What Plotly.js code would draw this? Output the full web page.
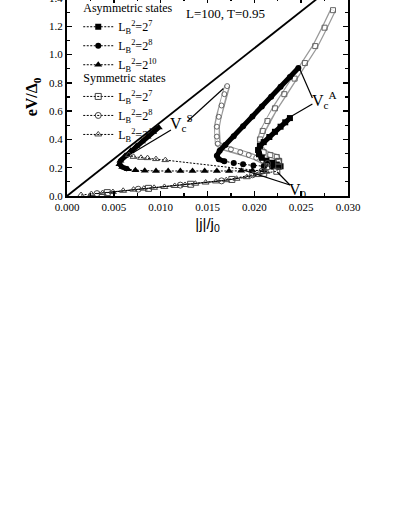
<!DOCTYPE html>
<html>
<head>
<meta charset="utf-8">
<script src="https://cdn.plot.ly/plotly-3.0.1.min.js"></script>
<style>
body{margin:0;background:#fff;overflow:hidden}
#chart{position:absolute;left:0;top:-20px;width:399px;height:536px}
</style>
</head>
<body>
<div id="chart"></div>
<script>
const SERIF = 'Liberation Serif, Times New Roman, serif'

// ohmic line through the origin
const ohmX = [0, 0.0268]
const ohmY = [0, 1.4]

// asymmetric states: dense turning branch, then the sparse tail
const asym7DenseX = [0.0238, 0.0233, 0.0228, 0.0222, 0.0216, 0.0210, 0.0206, 0.0204, 0.0205, 0.0208]
const asym7DenseY = [0.551, 0.521, 0.490, 0.454, 0.417, 0.381, 0.355, 0.325, 0.295, 0.270]
const asym7TailX = [0.0213, 0.0219, 0.0224, 0.0228]
const asym7TailY = [0.250, 0.235, 0.222, 0.210]

const asym8DenseX = [0.0247, 0.0238, 0.0228, 0.0218, 0.0208, 0.0198, 0.0188, 0.0178, 0.0169, 0.0163, 0.0160, 0.0162, 0.0168]
const asym8DenseY = [0.905, 0.842, 0.772, 0.702, 0.633, 0.563, 0.493, 0.423, 0.360, 0.320, 0.285, 0.260, 0.245]
const asym8TailX = [0.0178, 0.0188, 0.0199, 0.0210, 0.0219, 0.0226]
const asym8TailY = [0.233, 0.224, 0.216, 0.210, 0.207, 0.205]

const asym10DenseX = [0.0098, 0.0092, 0.0086, 0.0080, 0.0074, 0.0068, 0.0062, 0.0057, 0.0056, 0.0059, 0.0065]
const asym10DenseY = [0.485, 0.452, 0.419, 0.386, 0.354, 0.320, 0.285, 0.250, 0.225, 0.205, 0.190]
const asym10TailX = [0.0073, 0.0083, 0.0095, 0.0108, 0.0121, 0.0134, 0.0147, 0.0160, 0.0173, 0.0186, 0.0198, 0.0210]
const asym10TailY = [0.182, 0.178, 0.177, 0.177, 0.176, 0.176, 0.176, 0.176, 0.177, 0.178, 0.180, 0.182]

// symmetric states: lower branch, then the dense chain up to V_c
const sym7LoX = [0.0043, 0.0087, 0.0132, 0.0176, 0.0210, 0.0224, 0.0226, 0.0226]
const sym7LoY = [0.024, 0.054, 0.083, 0.117, 0.160, 0.175, 0.210, 0.245]
const sym7ChainX = [0.0226, 0.0224, 0.0217, 0.0210, 0.0206, 0.0206, 0.0209, 0.0214, 0.0222, 0.0232, 0.0243, 0.0254, 0.0265, 0.0275, 0.0284]
const sym7ChainY = [0.245, 0.276, 0.290, 0.310, 0.350, 0.400, 0.460, 0.530, 0.620, 0.720, 0.830, 0.940, 1.060, 1.190, 1.314]

const sym8LoX = [0.0032, 0.0076, 0.0121, 0.0165, 0.0198, 0.0208, 0.0214, 0.0214]
const sym8LoY = [0.017, 0.048, 0.077, 0.107, 0.150, 0.175, 0.205, 0.230]
const sym8ChainX = [0.0214, 0.0209, 0.0202, 0.0194, 0.0185, 0.0175, 0.0166, 0.0161, 0.0160, 0.0160, 0.0162, 0.0165, 0.0168, 0.0171]
const sym8ChainY = [0.230, 0.250, 0.270, 0.290, 0.310, 0.330, 0.345, 0.370, 0.420, 0.490, 0.560, 0.640, 0.720, 0.777]

const sym10X = [0.0015, 0.0026, 0.0038, 0.0049, 0.0060, 0.0071, 0.0082, 0.0093, 0.0104, 0.0115, 0.0126, 0.0137, 0.0148, 0.0159, 0.0170, 0.0181, 0.0192, 0.0203, 0.0213, 0.0105, 0.0095, 0.0086, 0.0079, 0.0071, 0.0066]
const sym10Y = [0.007, 0.014, 0.021, 0.028, 0.037, 0.045, 0.052, 0.058, 0.064, 0.071, 0.078, 0.087, 0.095, 0.103, 0.112, 0.122, 0.133, 0.148, 0.172, 0.254, 0.261, 0.268, 0.270, 0.277, 0.290]

const labels = ['L<sub>B</sub><sup>2</sup>=2<sup>7</sup>', 'L<sub>B</sub><sup>2</sup>=2<sup>8</sup>', 'L<sub>B</sub><sup>2</sup>=2<sup>10</sup>']

function draw(){
	const DOT = {color: '#000', width: 1, dash: '2px,1.5px'}
	const GREY = '#666'

	function tube(x, y){
		return [
			{x: x, y: y, mode: 'lines', line: {color: '#999', width: 6}, showlegend: false, hoverinfo: 'skip'},
			{x: x, y: y, mode: 'lines', line: {color: '#fff', width: 3.5}, showlegend: false, hoverinfo: 'skip'},
		]
	}
	function chain(x, y, symbol){
		return {x: x, y: y, mode: 'markers', showlegend: false,
			marker: {symbol: symbol, size: 5, color: GREY, line: {color: GREY, width: 1}}}
	}
	function asym(dx, dy, tx, ty, symbol, size, name, first){
		let t = {
			x: dx.concat(tx), y: dy.concat(ty), name: name,
			mode: 'lines+markers', line: DOT,
			marker: {symbol: symbol, size: size, color: '#000'},
			legendgroup: 'asym', legend: 'legend',
		}
		if (first) t.legendgrouptitle = {text: 'Asymmetric states', font: {family: SERIF, size: 12}}
		return t
	}
	function thick(x, y){
		return {x: x, y: y, mode: 'lines', line: {color: '#000', width: 5}, showlegend: false, hoverinfo: 'skip'}
	}
	function sym(x, y, symbol, name, first){
		let t = {
			x: x, y: y, name: name,
			mode: 'lines+markers', line: DOT,
			marker: {symbol: symbol, size: 6, color: '#444', line: {color: '#444', width: 1}},
			legendgroup: 'sym', legend: 'legend2',
		}
		if (first) t.legendgrouptitle = {text: 'Symmetric states', font: {family: SERIF, size: 12}}
		return t
	}

	let traces = [
		{x: ohmX, y: ohmY, mode: 'lines', line: {color: '#000', width: 1.8}, showlegend: false},
		...tube(sym7ChainX, sym7ChainY),
		...tube(sym8ChainX, sym8ChainY),
		chain(sym7ChainX, sym7ChainY, 'square-open'),
		chain(sym8ChainX, sym8ChainY, 'circle-open'),
		asym(asym7DenseX, asym7DenseY, asym7TailX, asym7TailY, 'square', 6, labels[0], true),
		asym(asym8DenseX, asym8DenseY, asym8TailX, asym8TailY, 'circle', 6, labels[1], false),
		asym(asym10DenseX, asym10DenseY, asym10TailX, asym10TailY, 'triangle-up', 7, labels[2], false),
		thick(asym7DenseX, asym7DenseY),
		thick(asym8DenseX, asym8DenseY),
		thick(asym10DenseX, asym10DenseY),
		sym(sym7LoX, sym7LoY, 'square-open', labels[0], true),
		sym(sym8LoX, sym8LoY, 'circle-open', labels[1], false),
		sym(sym10X, sym10Y, 'triangle-up-open', labels[2], false),
	]

	const ptr = (x0, y0, x1, y1) => ({type: 'line', xref: 'x', yref: 'y', x0: x0, y0: y0, x1: x1, y1: y1, line: {color: '#000', width: 1.2}})
	const legendBase = {
		x: 0.04, xanchor: 'left', yanchor: 'top',
		bgcolor: 'rgba(0,0,0,0)', font: {family: SERIF, size: 12},
		traceorder: 'grouped', tracegroupgap: 0,
	}

	let layout = {
		width: 399, height: 536,
		margin: {l: 67, r: 51, t: 18, b: 320},
		paper_bgcolor: '#fff', plot_bgcolor: '#fff',
		font: {family: SERIF, size: 11, color: '#000'},
		legend: {...legendBase, y: 1.024},
		legend2: {...legendBase, y: 0.672},
		xaxis: {
			range: [0, 0.03], tick0: 0, dtick: 0.005, tickformat: '.3f',
			ticks: 'inside', ticklen: 5, tickwidth: 1.5, tickcolor: '#000',
			minor: {dtick: 0.0025, ticks: 'inside', ticklen: 3, tickwidth: 1.2, tickcolor: '#000'},
			showline: true, linewidth: 2, linecolor: '#000', mirror: 'ticks',
			showgrid: false, zeroline: false,
			tickfont: {family: SERIF, size: 11},
			title: {text: '|j|/j<sub>0</sub>', font: {family: 'Liberation Sans, Arial, sans-serif', size: 15}, standoff: 6},
		},
		yaxis: {
			range: [0, 1.4], tick0: 0, dtick: 0.2, tickformat: '.1f',
			ticks: 'inside', ticklen: 5, tickwidth: 1.5, tickcolor: '#000',
			minor: {dtick: 0.1, ticks: 'inside', ticklen: 3, tickwidth: 1.2, tickcolor: '#000'},
			showline: true, linewidth: 2, linecolor: '#000', mirror: 'ticks',
			showgrid: false, zeroline: false,
			tickfont: {family: SERIF, size: 11},
			title: {text: '<b>eV/Δ<sub>0</sub></b>', font: {family: SERIF, size: 16}, standoff: 7},
		},
		annotations: [
			{x: 0.0169, y: 1.293, text: 'L=100, T=0.95', showarrow: false, font: {family: SERIF, size: 13}},
			{x: 0.0122, y: 0.516, text: 'V<sub>c</sub><sup>S</sup>', showarrow: false, font: {family: SERIF, size: 16}},
			{x: 0.02745, y: 0.678, text: 'V<sub>c</sub><sup>A</sup>', showarrow: false, font: {family: SERIF, size: 16}},
			{x: 0.02468, y: 0.042, text: 'V<sub>0</sub>', showarrow: false, font: {family: SERIF, size: 16}},
		],
		shapes: [
			ptr(0.0129, 0.53, 0.0167, 0.76),
			ptr(0.0111, 0.466, 0.0070, 0.304),
			ptr(0.0262, 0.693, 0.0248, 0.905),
			ptr(0.0262, 0.65, 0.0240, 0.565),
			ptr(0.0238, 0.078, 0.01883, 0.184),
			ptr(0.0238, 0.078, 0.02245, 0.17),
		],
	}

	Plotly.newPlot('chart', traces, layout, {staticPlot: true})
}

draw()
</script>
</body>
</html>
